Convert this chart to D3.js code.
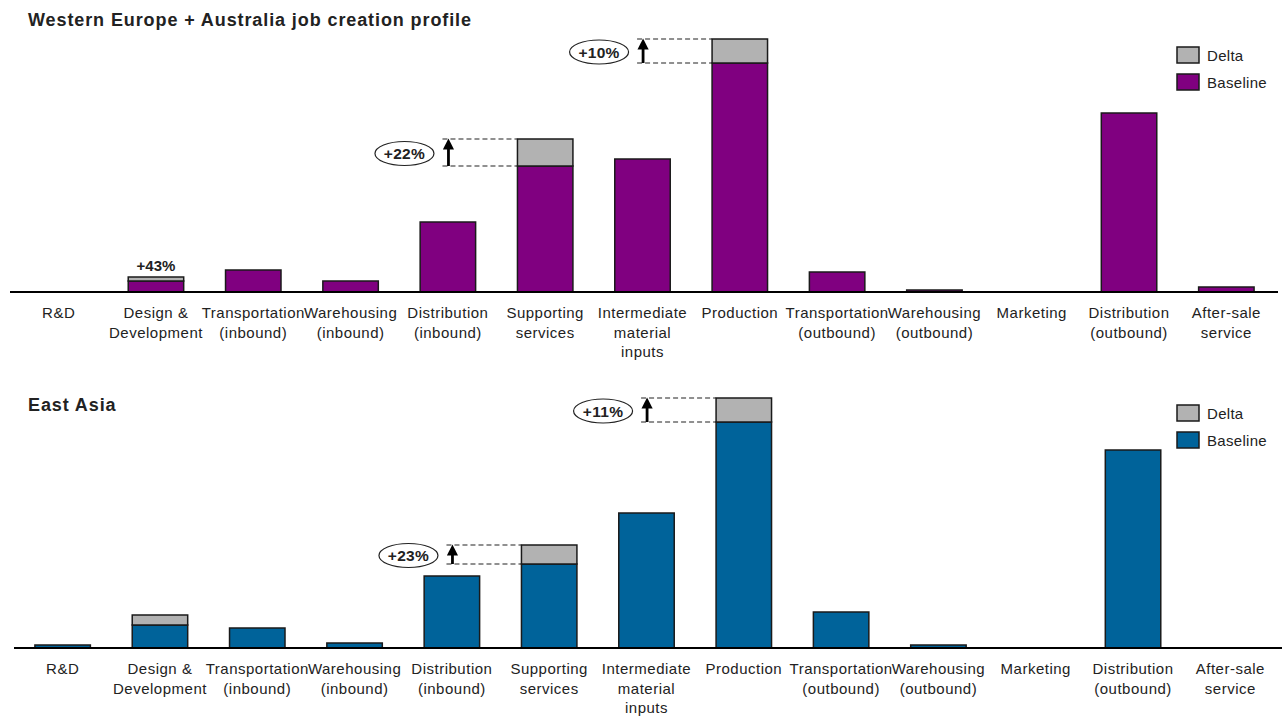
<!DOCTYPE html>
<html>
<head>
<meta charset="utf-8">
<script src="https://cdn.jsdelivr.net/npm/d3@7"></script>
<style>
  body { margin: 0; background: #fff; }
  svg text { font-family: "Liberation Sans", Arial, sans-serif; }
</style>
</head>
<body>
<div id="chart"></div>
<script>
// categories (line breaks with |)
var categories = ["R&D", "Design &|Development", "Transportation|(inbound)", "Warehousing|(inbound)",
  "Distribution|(inbound)", "Supporting|services", "Intermediate|material|inputs", "Production",
  "Transportation|(outbound)", "Warehousing|(outbound)", "Marketing", "Distribution|(outbound)", "After-sale|service"];

// Western Europe + Australia
var weBaseline = [0, 11, 22, 11, 70, 126, 133, 229, 20, 2, 0, 179, 5];
var weDelta    = [0, 4, 0, 0, 0, 27, 0, 24, 0, 0, 0, 0, 0];
var weCallouts = [[5, "+22%"], [7, "+10%"]];
var weTopLabels = [[1, "+43%"]];

// East Asia
var eaBaseline = [3, 23, 20, 5, 72, 84, 135, 226, 36, 3, 0, 198, 0];
var eaDelta    = [0, 10, 0, 0, 0, 19, 0, 24, 0, 0, 0, 0, 0];
var eaCallouts = [[5, "+23%"], [7, "+11%"]];
var eaTopLabels = [];

var width = 1282, height = 719;
var svg = d3.select("#chart").append("svg")
    .attr("width", width)
    .attr("height", height);

var defs = svg.append("defs");
defs.append("marker")
    .attr("id", "arrowhead")
    .attr("viewBox", "0 0 10 10")
    .attr("refX", 5).attr("refY", 5)
    .attr("markerWidth", 4).attr("markerHeight", 4)
    .attr("markerUnits", "strokeWidth")
    .attr("orient", "auto")
  .append("path")
    .attr("d", "M0,0 L10,5 L0,10 z")
    .attr("fill", "#000");

var grey = "#b2b2b2";

function drawPanel(opt) {
  var g = svg.append("g");

  var x = d3.scaleBand()
      .domain(d3.range(categories.length))
      .range([opt.x0, opt.x1])
      .paddingInner(0.43)
      .paddingOuter(0.215);

  var y = d3.scaleLinear()
      .domain([0, 260])
      .range([opt.base, opt.base - 260]);

  g.append("text")
      .attr("x", 28).attr("y", opt.titleY)
      .attr("font-size", 18).attr("font-weight", "bold").attr("fill", "#222")
      .attr("letter-spacing", 0.9)
      .text(opt.title);

  var rows = categories.map(function (c, i) {
    return { i: i, b: opt.baseline[i], d: opt.delta[i] };
  });

  // baseline bars
  g.selectAll(".base").data(rows.filter(function (d) { return d.b > 0; }))
    .enter().append("rect")
      .attr("x", function (d) { return x(d.i); })
      .attr("width", x.bandwidth())
      .attr("y", function (d) { return y(d.b); })
      .attr("height", function (d) { return y(0) - y(d.b); })
      .attr("fill", opt.color)
      .attr("stroke", "#1a1a1a").attr("stroke-width", 1.5);

  // delta bars
  g.selectAll(".delta").data(rows.filter(function (d) { return d.d > 0; }))
    .enter().append("rect")
      .attr("x", function (d) { return x(d.i); })
      .attr("width", x.bandwidth())
      .attr("y", function (d) { return y(d.b + d.d); })
      .attr("height", function (d) { return y(d.b) - y(d.b + d.d); })
      .attr("fill", grey)
      .attr("stroke", "#1a1a1a").attr("stroke-width", 1.5);

  // axis
  var axis = d3.axisBottom(x).tickSize(0).tickFormat("");
  var ax = g.append("g")
      .attr("transform", "translate(0," + y(0) + ")")
      .call(axis);
  ax.select(".domain").attr("stroke", "#000").attr("stroke-width", 2.2)
      .attr("d", "M" + (opt.x0) + ",0H" + (opt.x1 + 3));

  ax.selectAll(".tick").each(function (i) {
    var t = d3.select(this).append("text")
        .attr("text-anchor", "middle")
        .attr("fill", "#222")
        .attr("font-size", 15)
        .attr("letter-spacing", 0.5)
        .attr("y", 26);
    categories[i].split("|").forEach(function (line, k) {
      t.append("tspan").attr("x", 0).attr("dy", k === 0 ? 0 : 19.5).text(line);
    });
  });

  // plain labels above bars
  opt.topLabels.forEach(function (l) {
    var i = l[0];
    g.append("text")
        .attr("x", x(i) + x.bandwidth() / 2)
        .attr("y", y(opt.baseline[i] + opt.delta[i]) - 6)
        .attr("text-anchor", "middle")
        .attr("font-size", 15).attr("font-weight", "bold").attr("fill", "#222")
        .text(l[1]);
  });

  // callouts with dashed guides, arrow and ellipse
  opt.callouts.forEach(function (c) {
    var i = c[0];
    var yTop = y(opt.baseline[i] + opt.delta[i]);
    var yBot = y(opt.baseline[i]);
    var left = x(i);
    var ax0 = left - 69;
    [yTop, yBot].forEach(function (yy) {
      g.append("line")
          .attr("x1", ax0 - 6).attr("x2", left)
          .attr("y1", yy).attr("y2", yy)
          .attr("stroke", "#222").attr("stroke-width", 1.2)
          .attr("stroke-dasharray", "5,3");
    });
    g.append("line")
        .attr("x1", ax0).attr("x2", ax0)
        .attr("y1", yBot).attr("y2", yTop + 5)
        .attr("stroke", "#000").attr("stroke-width", 2.8)
        .attr("marker-end", "url(#arrowhead)");
    var cx = ax0 - 44, cy = (yTop + yBot) / 2 + 1;
    g.append("ellipse")
        .attr("cx", cx).attr("cy", cy)
        .attr("rx", 29.5).attr("ry", 12)
        .attr("fill", "#fff").attr("stroke", "#222").attr("stroke-width", 1.2);
    g.append("text")
        .attr("x", cx).attr("y", cy + 5.5)
        .attr("text-anchor", "middle")
        .attr("font-size", 15.5).attr("font-weight", "bold").attr("fill", "#222")
        .attr("letter-spacing", 0.3)
        .text(c[1]);
  });

  // legend
  var leg = g.append("g").attr("transform", "translate(1177," + opt.legendY + ")");
  [["Delta", grey], ["Baseline", opt.color]].forEach(function (d, k) {
    leg.append("rect")
        .attr("x", 0).attr("y", k * 27)
        .attr("width", 22).attr("height", 16)
        .attr("fill", d[1]).attr("stroke", "#1a1a1a").attr("stroke-width", 1.5);
    leg.append("text")
        .attr("x", 30).attr("y", k * 27 + 13.5)
        .attr("font-size", 15).attr("fill", "#222")
        .attr("letter-spacing", 0.3)
        .text(d[0]);
  });
}

drawPanel({
  title: "Western Europe + Australia job creation profile",
  titleY: 26, base: 292, x0: 10, x1: 1275, legendY: 47,
  color: "#800080",
  baseline: weBaseline, delta: weDelta,
  callouts: weCallouts, topLabels: weTopLabels
});

drawPanel({
  title: "East Asia",
  titleY: 411, base: 648, x0: 14, x1: 1279, legendY: 405,
  color: "#00639a",
  baseline: eaBaseline, delta: eaDelta,
  callouts: eaCallouts, topLabels: eaTopLabels
});
</script>
</body>
</html>
